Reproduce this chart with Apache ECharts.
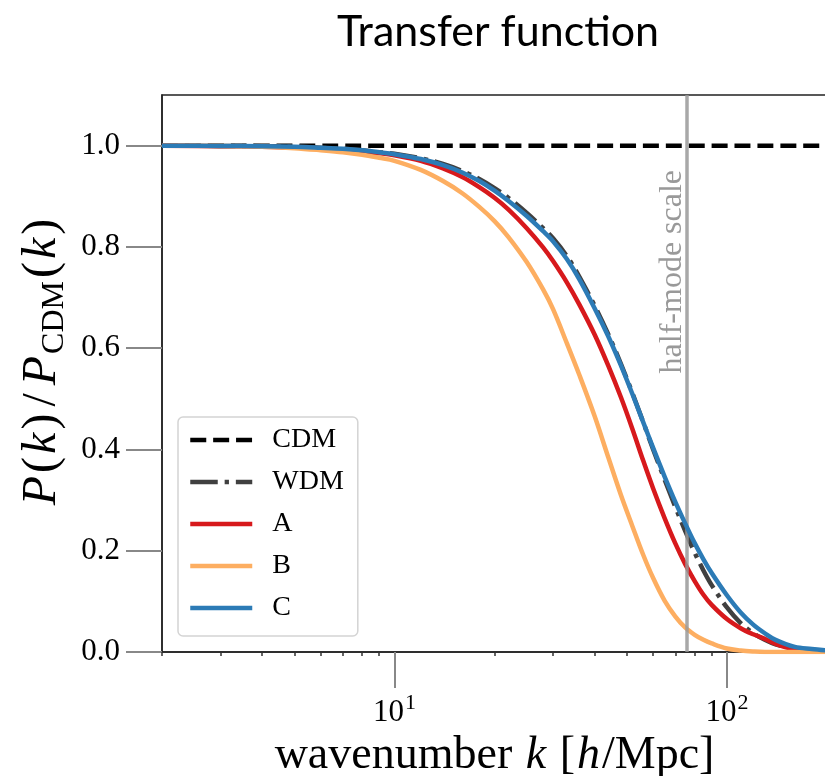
<!DOCTYPE html>
<html><head><meta charset="utf-8">
<script src="https://cdn.jsdelivr.net/npm/echarts@6/dist/echarts.min.js"></script>
<style>html,body{margin:0;padding:0;background:#fff}#main{width:825px;height:776px}</style>
</head><body><div id="main"></div>
<script>
// ---- data ----
const kValues = [2,3,4,5,6,7,8,9,10,12,14,16,18,20,22,25,28,30,33,36,40,44,48,52,56,60,65,70,75,80,85,90,100,110,120,130,140,160,180,200];
const cdmValues = [1,1,1,1,1,1,1,1,1,1,1,1,1,1,1,1,1,1,1,1,1,1,1,1,1,1,1,1,1,1,1,1,1,1,1,1,1,1,1,1];
const wdmValues = [1.000,0.9995,0.999,0.998,0.996,0.994,0.991,0.987,0.984,0.975,0.964,0.950,0.934,0.916,0.897,0.867,0.837,0.817,0.782,0.741,0.684,0.627,0.569,0.511,0.454,0.400,0.340,0.286,0.238,0.196,0.161,0.132,0.088,0.057,0.037,0.024,0.015,0.006,0.003,0.001];
const aValues = [1.000,0.999,0.998,0.996,0.994,0.991,0.988,0.985,0.981,0.970,0.955,0.938,0.918,0.897,0.874,0.837,0.799,0.772,0.730,0.686,0.627,0.565,0.503,0.440,0.378,0.323,0.264,0.214,0.173,0.140,0.113,0.093,0.065,0.047,0.035,0.026,0.016,0.005,0.002,0.001];
const bValues = [1.000,0.9995,0.998,0.995,0.991,0.987,0.982,0.976,0.970,0.952,0.930,0.906,0.879,0.851,0.820,0.770,0.716,0.677,0.610,0.547,0.466,0.384,0.310,0.248,0.192,0.146,0.101,0.070,0.048,0.034,0.024,0.017,0.007,0.003,0.001,0.000,0.000,0.000,0.000,0.000];
const cValues = [1.000,0.9995,0.999,0.998,0.996,0.994,0.991,0.987,0.983,0.9735,0.9615,0.947,0.930,0.911,0.891,0.861,0.831,0.811,0.776,0.736,0.679,0.623,0.566,0.509,0.454,0.403,0.346,0.296,0.253,0.215,0.183,0.156,0.112,0.078,0.054,0.037,0.024,0.010,0.006,0.003];
const seriesNames = ['CDM','WDM','A','B','C'];
const halfModeK = 75.7;
const halfModeLabel = 'half-mode scale';
const yTicks = [0,0.2,0.4,0.6,0.8,1.0];
const xTicks = [10,100];
const xTickBases = ['10','10'];
const xTickExponents = ['1','2'];
const xMinorTicks = [2,3,4,5,6,7,8,9,20,30,40,50,60,70,80,90,200];

// ---- chart ----
const SERIF = '"Liberation Serif", "Times New Roman", serif';
const chart = echarts.init(document.getElementById('main'), null, {renderer:'canvas'});
function pairs(ys){ return kValues.map((k,i)=>[k, ys[i]]); }
const lw = 4.5;
function lineSeries(name, ys, color, type, z){
  return {name, type:'line', data:pairs(ys), symbol:'none', showSymbol:false,
    smooth:0.35, z,
    itemStyle:{color}, lineStyle:{color, width:lw, type, cap:'butt', join:'round'}};
}
const NF = 46;
const option = {
  animation:false,
  title:{text:'Transfer function', left:493, top:6, textAlign:'center',
    textStyle:{fontFamily:'Lato', fontSize:43, fontWeight:'normal', color:'#000'}},
  grid:{left:162, top:95, right:-2, bottom:124, show:true, borderColor:'#222', borderWidth:1.5, outerBoundsMode:'none'},
  legend:{data:seriesNames, orient:'vertical', left:178, top:417, itemWidth:62, itemHeight:14, itemGap:12,
    padding:[8,14,13,10], backgroundColor:'#fff', borderColor:'#d4d4d4', borderWidth:1.5, borderRadius:5,
    selectedMode:false, itemStyle:{opacity:0}, lineStyle:{width:lw},
    textStyle:{fontFamily:SERIF, fontSize:28, color:'#000', lineHeight:30, padding:[0,0,0,15]}},
  xAxis:[{
    type:'log', logBase:10, min:2, max:200, position:'bottom',
    axisLine:{show:true, onZero:false, lineStyle:{color:'#222', width:1.5}},
    axisTick:{show:true, inside:false, length:36, customValues:xTicks, lineStyle:{color:'#888', width:2}},
    axisLabel:{customValues:xTicks, margin:40, fontFamily:SERIF, fontSize:31, color:'#000',
      formatter:(v)=>{const i = xTicks.findIndex(t=>Math.abs(Math.log10(t)-Math.log10(v))<1e-6); return i>=0?('{b|'+xTickBases[i]+'}{s|'+xTickExponents[i]+'}'):'';},
      rich:{b:{fontFamily:SERIF, fontSize:31, color:'#000', lineHeight:36, verticalAlign:'bottom'},
            s:{fontFamily:SERIF, fontSize:22, color:'#000', lineHeight:36, verticalAlign:'top', padding:[0,0,0,1]}}},
    splitLine:{show:false}, minorTick:{show:false},
    name:'{n|wavenumber }{i|k}{n| [}{i|h}{n|/Mpc]}', nameLocation:'middle', nameGap:72,
    nameTextStyle:{fontFamily:SERIF, fontSize:NF, color:'#000',
      rich:{n:{fontFamily:SERIF, fontSize:NF, color:'#000'}, i:{fontFamily:SERIF, fontSize:NF, fontStyle:'italic', color:'#000', padding:[0,2,0,2]}}}
  },{
    type:'log', logBase:10, min:2, max:200, position:'bottom',
    axisLine:{show:false},
    axisTick:{show:true, inside:false, length:4, customValues:xMinorTicks, lineStyle:{color:'#333', width:1.5}},
    axisLabel:{show:false}, splitLine:{show:false}
  }],
  yAxis:{
    type:'value', min:0, max:1.1,
    axisLine:{show:true, lineStyle:{color:'#222', width:1.5}},
    axisTick:{show:true, length:36, customValues:yTicks, lineStyle:{color:'#888', width:2}},
    axisLabel:{customValues:yTicks, margin:42, fontFamily:SERIF, fontSize:31, color:'#000', formatter:(v)=>v.toFixed(1)},
    splitLine:{show:false},
    name:'{i|P}{n|(}{i|k}{n|)}{d|/}{i|P}{s|CDM}{n|(}{i|k}{n|)}', nameLocation:'middle', nameRotate:90, nameGap:84,
    nameTextStyle:{fontFamily:SERIF, fontSize:48, color:'#000', padding:[0,0,0,22],
      rich:{n:{fontFamily:SERIF, fontSize:48, color:'#000', lineHeight:56, verticalAlign:'middle', padding:[0,1,0,1]},
            d:{fontFamily:SERIF, fontSize:48, color:'#000', lineHeight:56, verticalAlign:'middle', padding:[0,6,0,6]},
            i:{fontFamily:SERIF, fontSize:48, fontStyle:'italic', color:'#000', lineHeight:56, verticalAlign:'middle', padding:[0,2,0,2]},
            s:{fontFamily:SERIF, fontSize:32, color:'#000', lineHeight:56, verticalAlign:'bottom', padding:[0,2,0,0]}}}
  },
  series:[
    lineSeries(seriesNames[0], cdmValues, '#000000', [16,6.9], 2),
    lineSeries(seriesNames[1], wdmValues, '#404040', [27.5,6.9,4.3,6.9], 3),
    lineSeries(seriesNames[2], aValues, '#d7191c', 'solid', 4),
    lineSeries(seriesNames[3], bValues, '#fdae61', 'solid', 4),
    lineSeries(seriesNames[4], cValues, '#2c7bb6', 'solid', 5),
    {name:'half-mode', type:'line', data:[], z:6,
      markLine:{silent:true, symbol:['none','none'], label:{show:false}, animation:false,
        lineStyle:{color:'#999', width:3.5, type:'solid', opacity:0.85},
        data:[{xAxis:halfModeK}]}}
  ]
};
chart.setOption(option);
const px = chart.convertToPixel({xAxisIndex:0}, halfModeK);
const py = chart.convertToPixel({yAxisIndex:0}, 0.952);
chart.setOption({graphic:[{type:'text', x:px+2, y:py, rotation:Math.PI/2, z:10,
  style:{text:halfModeLabel, fontFamily:SERIF, fontSize:32, fill:'#999',
    align:'right', verticalAlign:'bottom', textAlign:'right', textVerticalAlign:'bottom'}}]});
</script></body></html>
